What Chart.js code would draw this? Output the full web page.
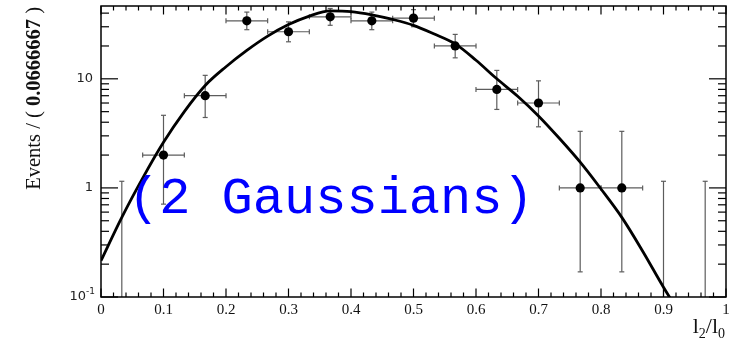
<!DOCTYPE html>
<html>
<head>
<meta charset="utf-8">
<script src="https://cdn.jsdelivr.net/npm/chart.js@4.4.1/dist/chart.umd.min.js"></script>
<style>
  html, body { margin: 0; padding: 0; background: #fff; }
  #wrap { width: 732px; height: 350px; position: relative; }
</style>
</head>
<body>
<div id="wrap"><canvas id="c" width="732" height="350"></canvas></div>
<script>
// Histogram of l2/l0: 15 bins of width 1/15
const binCenters = [0.0333, 0.1, 0.1667, 0.2333, 0.3, 0.3667, 0.4333, 0.5,
                    0.5667, 0.6333, 0.7, 0.7667, 0.8333, 0.9, 0.9667];
const counts     = [0, 2, 7, 34, 27, 37, 34, 36, 20, 8, 6, 1, 1, 0, 0];
// asymmetric Poisson errors (down / up)
const errLow     = [0, 1.29, 2.58, 5.80, 5.16, 6.05, 5.80, 5.97, 4.43, 2.76, 2.37, 0.83, 0.83, 0, 0];
const errHigh    = [1.15, 2.63, 3.76, 6.88, 6.26, 7.13, 6.88, 7.05, 5.54, 3.94, 3.58, 2.30, 2.30, 1.15, 1.15];
const binHalfWidth = 1 / 30;

// fitted double-Gaussian model, sampled along l2/l0
const curveX = [0, 0.0333, 0.0667, 0.1, 0.1333, 0.1667, 0.2, 0.2333, 0.2667, 0.3, 0.3333,
                0.3667, 0.4, 0.4333, 0.4667, 0.5, 0.5333, 0.5667, 0.6, 0.6333, 0.6667,
                0.7, 0.7333, 0.7667, 0.8, 0.8333, 0.8667, 0.9, 0.92];
const curveY = [0.215, 0.537, 1.23, 2.62, 5.01, 8.69, 12.9, 18.2, 24.6, 31.4, 37.6,
                41.9, 41.3, 38.6, 35.0, 30.9, 25.7, 20.9, 14.8, 10.0, 6.92,
                4.57, 2.85, 1.72, 0.977, 0.537, 0.263, 0.123, 0.08];

// axis labelling
const xTickValues = [0, 0.1, 0.2, 0.3, 0.4, 0.5, 0.6, 0.7, 0.8, 0.9, 1];
const xTickLabels = ['0', '0.1', '0.2', '0.3', '0.4', '0.5', '0.6', '0.7', '0.8', '0.9', '1'];
const yTickValues = [0.1, 1, 10];
const yTickBases  = ['10', '1', '10'];
const yTickExps   = ['-1', '', ''];
const yTitleParts = ['Events / ( ', '0.0666667', ' )'];
const annotationText = '(2 Gaussians)';

const xMin = 0, xMax = 1, yMin = 0.1, yMax = 46.5;

const drawFrame = {
  id: 'rootFrame',
  beforeDatasetsDraw(chart) {
    const ctx = chart.ctx, xs = chart.scales.x, ys = chart.scales.y, a = chart.chartArea;
    ctx.save();
    ctx.beginPath();
    ctx.rect(a.left, a.top, a.right - a.left, a.bottom - a.top);
    ctx.clip();
    ctx.strokeStyle = '#5c5c5c';
    ctx.lineWidth = 1.2;
    const cap = 2.5;
    const seg = (x1, y1, x2, y2) => { ctx.beginPath(); ctx.moveTo(x1, y1); ctx.lineTo(x2, y2); ctx.stroke(); };
    binCenters.forEach((xc, i) => {
      const n = counts[i];
      const px = xs.getPixelForValue(xc);
      const lo = n - errLow[i], hi = n + errHigh[i];
      const yTop = ys.getPixelForValue(hi);
      const yBot = lo > 0 ? ys.getPixelForValue(lo) : a.bottom;
      seg(px, yTop, px, yBot);
      seg(px - cap, yTop, px + cap, yTop);
      if (lo > 0) seg(px - cap, yBot, px + cap, yBot);
      if (n > 0) {
        const py = ys.getPixelForValue(n);
        const xl = xs.getPixelForValue(xc - binHalfWidth), xr = xs.getPixelForValue(xc + binHalfWidth);
        seg(xl, py, xr, py);
        seg(xl, py - cap, xl, py + cap);
        seg(xr, py - cap, xr, py + cap);
      }
    });
    ctx.restore();
  },
  afterDatasetsDraw(chart) {
    const ctx = chart.ctx, xs = chart.scales.x, ys = chart.scales.y, a = chart.chartArea;
    ctx.save();
    const seg = (x1, y1, x2, y2) => { ctx.beginPath(); ctx.moveTo(x1, y1); ctx.lineTo(x2, y2); ctx.stroke(); };

    // frame
    ctx.strokeStyle = '#000';
    ctx.lineWidth = 1.5;
    ctx.strokeRect(a.left, a.top, a.right - a.left, a.bottom - a.top);

    // x ticks (bottom and top), 0.02 subdivisions
    ctx.lineWidth = 1.2;
    for (let k = 0; k <= 50; k++) {
      const v = k / 50;
      const px = xs.getPixelForValue(v);
      const len = (k % 5 === 0) ? 8.5 : 4.5;
      seg(px, a.bottom, px, a.bottom - len);
      seg(px, a.top, px, a.top + len);
    }
    // y ticks, log subdivisions (left and right)
    for (let d = 0.1; d < yMax; d *= 10) {
      for (let m = 1; m <= 9; m++) {
        const v = d * m;
        if (v < yMin || v > yMax) continue;
        const py = ys.getPixelForValue(v);
        const len = m === 1 ? 17 : 8;
        seg(a.left, py, a.left + len, py);
        seg(a.right, py, a.right - len, py);
      }
    }

    // x tick labels
    ctx.fillStyle = '#111';
    ctx.font = '15px "Liberation Serif", serif';
    ctx.textAlign = 'center';
    ctx.textBaseline = 'alphabetic';
    xTickValues.forEach((v, i) => {
      ctx.fillText(xTickLabels[i], xs.getPixelForValue(v), 314);
    });

    // y tick labels
    ctx.fillStyle = '#222';
    ctx.textBaseline = 'middle';
    yTickValues.forEach((v, i) => {
      const py = ys.getPixelForValue(v);
      let right = 93;
      if (yTickExps[i]) {
        ctx.font = '9px "DejaVu Sans", sans-serif';
        ctx.textAlign = 'right';
        ctx.fillText(yTickExps[i], right + 2, py - 5);
        right -= ctx.measureText(yTickExps[i]).width - 2;
      }
      ctx.font = '13px "DejaVu Sans", sans-serif';
      ctx.textAlign = 'right';
      ctx.fillText(yTickBases[i], right, py);
    });

    // y title, rotated and aligned to the top of the axis
    const fontsY = ['20.5px "Liberation Serif", serif', 'bold 20.5px "Liberation Serif", serif', '20.5px "Liberation Serif", serif'];
    let total = 0;
    const widths = yTitleParts.map((t, i) => { ctx.font = fontsY[i]; const w = ctx.measureText(t).width; total += w; return w; });
    ctx.save();
    ctx.translate(40, a.top + 1 + total);
    ctx.rotate(-Math.PI / 2);
    ctx.fillStyle = '#111';
    ctx.textAlign = 'left';
    ctx.textBaseline = 'alphabetic';
    let off = 0;
    yTitleParts.forEach((t, i) => { ctx.font = fontsY[i]; ctx.fillText(t, off, 0); off += widths[i]; });
    ctx.restore();

    // x title l2/l0, right-aligned under the axis end
    const main = '22px "Liberation Serif", serif', sub = '14px "Liberation Serif", serif';
    const pieces = [['l', main, 0], ['2', sub, 5], ['/', main, 0], ['l', main, 0], ['0', sub, 5]];
    let wsum = 0;
    pieces.forEach(p => { ctx.font = p[1]; wsum += ctx.measureText(p[0]).width; });
    let xx = 725 - wsum;
    ctx.fillStyle = '#111';
    ctx.textAlign = 'left';
    ctx.textBaseline = 'alphabetic';
    pieces.forEach(p => { ctx.font = p[1]; ctx.fillText(p[0], xx, 333 + p[2]); xx += ctx.measureText(p[0]).width; });

    // model label
    ctx.font = '52px "Liberation Mono", monospace';
    ctx.fillStyle = '#0000ff';
    ctx.textAlign = 'left';
    ctx.fillText(annotationText, 128, 213);
    ctx.restore();
  }
};

const pointData = [];
binCenters.forEach((x, i) => { if (counts[i] > 0) pointData.push({ x: x, y: counts[i] }); });
const curveData = curveX.map((x, i) => ({ x: x, y: curveY[i] }));

new Chart(document.getElementById('c'), {
  type: 'scatter',
  data: {
    datasets: [
      {
        label: 'model',
        data: curveData,
        showLine: true,
        borderColor: '#000',
        borderWidth: 2.8,
        pointRadius: 0,
        cubicInterpolationMode: 'monotone',
        order: 0
      },
      {
        label: 'data',
        data: pointData,
        showLine: false,
        pointRadius: 4.6,
        pointBackgroundColor: '#000',
        pointBorderColor: '#000',
        pointBorderWidth: 0,
        order: 1
      }
    ]
  },
  options: {
    responsive: false,
    devicePixelRatio: 1,
    animation: false,
    layout: { padding: { left: 101, right: 6, top: 6, bottom: 53 } },
    plugins: { legend: { display: false }, tooltip: { enabled: false } },
    scales: {
      x: { type: 'linear', min: xMin, max: xMax, display: false },
      y: { type: 'logarithmic', min: yMin, max: yMax, display: false }
    }
  },
  plugins: [drawFrame]
});
</script>
</body>
</html>
